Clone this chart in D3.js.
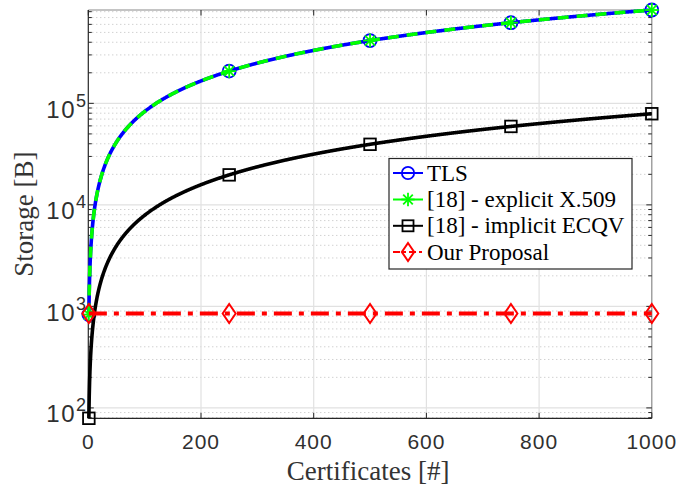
<!DOCTYPE html>
<html><head><meta charset="utf-8">
<script src="https://cdn.jsdelivr.net/npm/d3@7"></script>
<style>body{margin:0;background:#fff}svg{display:block}</style>
</head><body><svg id="c" width="679" height="488"></svg>
<script>
// ---- data ----
const certificates = [1, 250, 500, 750, 1000];
const tlsStorage = [831, 207750, 415500, 623250, 831000];
const explicitStorage = [831, 207750, 415500, 623250, 831000];
const implicitStorage = [79, 19750, 39500, 59250, 79000];
const proposalStorage = [850, 850, 850, 850, 850];
const xTicks = [0, 200, 400, 600, 800, 1000];
const yTickExps = [2, 3, 4, 5];
const seriesNames = ["TLS", "[18] - explicit X.509", "[18] - implicit ECQV", "Our Proposal"];
const xLabel = "Certificates [#]";
const yLabel = "Storage [B]";

const svg = d3.select("#c");
const L = 88.3, R = 651.8, T = 10, B = 418.3;
const x = d3.scaleLinear().domain([0, 1000]).range([L, R]);
const y = d3.scaleLog().domain([79, 831000]).range([B, T]);

// grid
const g = svg.append("g");
const minor = [];
for (let d = 1; d <= 5; d++) for (let k = 2; k <= 9; k++) {
  const v = k * Math.pow(10, d);
  if (v >= y.domain()[0] && v <= y.domain()[1]) minor.push(v);
}
g.selectAll(".ym").data(minor).join("line")
  .attr("x1", L).attr("x2", R).attr("y1", d => y(d)).attr("y2", d => y(d))
  .attr("stroke", "#bdbdbd").attr("stroke-width", 1).attr("stroke-dasharray", "1,3");
g.selectAll(".yM").data(yTickExps).join("line")
  .attr("x1", L).attr("x2", R).attr("y1", d => y(Math.pow(10, d))).attr("y2", d => y(Math.pow(10, d)))
  .attr("stroke", "#e1e1e1").attr("stroke-width", 1.2);
g.selectAll(".xM").data(xTicks.slice(1, -1)).join("line")
  .attr("x1", d => x(d)).attr("x2", d => x(d)).attr("y1", T).attr("y2", B)
  .attr("stroke", "#e1e1e1").attr("stroke-width", 1.2);

// axes box
svg.append("line").attr("x1", L).attr("x2", R).attr("y1", T).attr("y2", T).attr("stroke", "#8a8a8a").attr("stroke-width", 1.2);
svg.append("line").attr("x1", R).attr("x2", R).attr("y1", T).attr("y2", B).attr("stroke", "#8a8a8a").attr("stroke-width", 1.2);
svg.append("line").attr("x1", L).attr("x2", R).attr("y1", B).attr("y2", B).attr("stroke", "#262626").attr("stroke-width", 1.2);
svg.append("line").attr("x1", L).attr("x2", L).attr("y1", T).attr("y2", B).attr("stroke", "#262626").attr("stroke-width", 1.2);

// ticks
const tk = svg.append("g").attr("stroke", "#262626").attr("stroke-width", 1);
xTicks.forEach(v => {
  tk.append("line").attr("x1", x(v)).attr("x2", x(v)).attr("y1", B).attr("y2", B - 5.5);
  tk.append("line").attr("x1", x(v)).attr("x2", x(v)).attr("y1", T).attr("y2", T + 5.5);
});
yTickExps.forEach(e => {
  const p = y(Math.pow(10, e));
  tk.append("line").attr("x1", L).attr("x2", L + 5.5).attr("y1", p).attr("y2", p);
  tk.append("line").attr("x1", R).attr("x2", R - 5.5).attr("y1", p).attr("y2", p);
});
minor.forEach(v => {
  const p = y(v);
  tk.append("line").attr("x1", L).attr("x2", L + 3.5).attr("y1", p).attr("y2", p);
  tk.append("line").attr("x1", R).attr("x2", R - 3.5).attr("y1", p).attr("y2", p);
});

// tick labels
const sans = "'Liberation Sans', Arial, sans-serif";
svg.selectAll(".xl").data(xTicks).join("text")
  .attr("x", d => x(d)).attr("y", 449.3).attr("text-anchor", "middle")
  .attr("font-family", sans).attr("font-size", 21).attr("letter-spacing", 1).attr("fill", "#303030")
  .text(d => d);
yTickExps.forEach(e => {
  const p = y(Math.pow(10, e));
  svg.append("text").attr("font-family", sans).attr("fill", "#303030")
    .attr("x", 76).attr("y", p + 14.3).attr("text-anchor", "end")
    .attr("font-size", 24).attr("letter-spacing", 1.5).text("10");
  svg.append("text").attr("font-family", sans).attr("fill", "#303030")
    .attr("x", 76).attr("y", p + 3.5).attr("font-size", 18).text(e);
});

// axis labels
const serif = "'Liberation Serif', 'Times New Roman', serif";
svg.append("text").attr("x", (L + R) / 2 - 2).attr("y", 480).attr("text-anchor", "middle")
  .attr("font-family", serif).attr("font-size", 27).attr("fill", "#333").text(xLabel);
svg.append("text").attr("transform", `translate(33,${(T + B) / 2}) rotate(-90)`).attr("text-anchor", "middle")
  .attr("font-family", serif).attr("font-size", 27).attr("fill", "#333").text(yLabel);

// lines: straight segments in data space, projected on the log axis
function pathFor(xs, ys) {
  const pts = [];
  for (let i = 0; i < xs.length - 1; i++) {
    const n = 400;
    for (let j = 0; j < n; j++) {
      const t = j / n;
      pts.push([xs[i] + (xs[i + 1] - xs[i]) * t, ys[i] + (ys[i + 1] - ys[i]) * t]);
    }
  }
  pts.push([xs[xs.length - 1], ys[ys.length - 1]]);
  return d3.line().x(d => x(d[0])).y(d => y(d[1]))(pts);
}
const series = [
  { name: seriesNames[0], vals: tlsStorage, color: "#0000ff", dash: null, w: 3.6, marker: "circle" },
  { name: seriesNames[1], vals: explicitStorage, color: "#00ff00", dash: "11,8", w: 3.6, marker: "star" },
  { name: seriesNames[2], vals: implicitStorage, color: "#000000", dash: null, w: 3.6, marker: "square" },
  { name: seriesNames[3], vals: proposalStorage, color: "#ff0000", dash: "18,7,5,7", w: 4, marker: "diamond" }
];

function drawMarker(sel, type, cx, cy, color, s) {
  s = s || 1;
  if (type === "circle") {
    sel.append("circle").attr("cx", cx).attr("cy", cy).attr("r", 6.5 * s)
      .attr("fill", "none").attr("stroke", color).attr("stroke-width", 1.8);
  } else if (type === "star") {
    const r = 7 * s;
    const gg = sel.append("g").attr("stroke", color).attr("stroke-width", 1.8);
    gg.append("line").attr("x1", cx - r).attr("x2", cx + r).attr("y1", cy).attr("y2", cy);
    gg.append("line").attr("x1", cx).attr("x2", cx).attr("y1", cy - r).attr("y2", cy + r);
    const q = r * 0.72;
    gg.append("line").attr("x1", cx - q).attr("x2", cx + q).attr("y1", cy - q).attr("y2", cy + q);
    gg.append("line").attr("x1", cx - q).attr("x2", cx + q).attr("y1", cy + q).attr("y2", cy - q);
  } else if (type === "square") {
    const h = 5.8 * s;
    sel.append("rect").attr("x", cx - h).attr("y", cy - h).attr("width", 2 * h).attr("height", 2 * h)
      .attr("fill", "none").attr("stroke", color).attr("stroke-width", 1.8);
  } else if (type === "diamond") {
    const hw = 6.5 * s, hh = 9.5 * s;
    sel.append("path").attr("d", `M${cx},${cy - hh}L${cx + hw},${cy}L${cx},${cy + hh}L${cx - hw},${cy}Z`)
      .attr("fill", "none").attr("stroke", color).attr("stroke-width", 2);
  }
}

const plot = svg.append("g");
series.forEach(s => {
  plot.append("path").attr("d", pathFor(certificates, s.vals)).attr("fill", "none")
    .attr("stroke", s.color).attr("stroke-width", s.w)
    .attr("stroke-dasharray", s.dash).attr("stroke-linejoin", "round");
  certificates.forEach((c, i) => drawMarker(plot, s.marker, x(c), y(s.vals[i]), s.color));
});

// legend
const lg = svg.append("g");
lg.append("rect").attr("x", 389).attr("y", 158.5).attr("width", 243).attr("height", 110.5)
  .attr("fill", "#fff").attr("stroke", "#262626").attr("stroke-width", 1.2);
const rowY = [173, 199.5, 225.8, 252];
series.forEach((s, i) => {
  const yy = rowY[i];
  lg.append("line").attr("x1", 393).attr("x2", 423).attr("y1", yy).attr("y2", yy)
    .attr("stroke", s.color).attr("stroke-width", 2)
    .attr("stroke-dasharray", s.marker === "diamond" ? "7,3,3,3" : null);
  drawMarker(lg, s.marker, 408, yy, s.color, 0.95);
  lg.append("text").attr("x", 427).attr("y", yy + 7.5).attr("font-family", serif)
    .attr("font-size", 23).attr("fill", "#000").text(s.name);
});
</script></body></html>
